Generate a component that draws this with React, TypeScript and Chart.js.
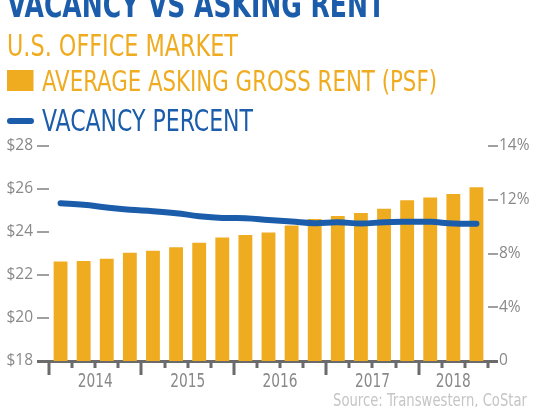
import React, { useEffect, useRef } from "react";
import { Chart, registerables } from "chart.js";

Chart.register(...registerables);

const quarters = [
  "2014 Q1", "2014 Q2", "2014 Q3", "2014 Q4",
  "2015 Q1", "2015 Q2", "2015 Q3", "2015 Q4",
  "2016 Q1", "2016 Q2", "2016 Q3", "2016 Q4",
  "2017 Q1", "2017 Q2", "2017 Q3", "2017 Q4",
  "2018 Q1", "2018 Q2", "2018 Q3",
];
const years = ["2014", "2015", "2016", "2017", "2018"];
const rentPsf = [22.63, 22.65, 22.76, 23.04, 23.13, 23.29, 23.5, 23.75, 23.86, 23.98, 24.3, 24.6, 24.74, 24.88, 25.08, 25.48, 25.6, 25.77, 26.08];
const vacancyPct = [11.74, 11.62, 11.42, 11.25, 11.15, 11.0, 10.78, 10.65, 10.63, 10.5, 10.38, 10.26, 10.33, 10.23, 10.33, 10.36, 10.36, 10.23, 10.21];
const rentTicks = [18, 20, 22, 24, 26, 28];
const vacancyTicks = [0, 4, 8, 12, 16];
const vacancyTickLabels = ["0", "4%", "8%", "12%", "14%"];

const GOLD = "#efac21";
const BLUE = "#1b5dab";
const AXIS_DARK = "#6b6b6b";
const LABEL_GRAY = "#898989";
const TICK_GRAY = "#a0a0a0";
const NARROW = "'Liberation Sans Narrow', 'DejaVu Sans Condensed', 'Liberation Sans', sans-serif";

const quarterAxisPlugin = {
  id: "quarterAxis",
  afterDraw(chart: any) {
    const { ctx, chartArea, scales } = chart;
    const x = scales.x;
    const step = x.getPixelForValue(1) - x.getPixelForValue(0);
    const start = x.getPixelForValue(0) - step / 2;
    const base = chartArea.bottom;
    ctx.save();
    ctx.strokeStyle = AXIS_DARK;
    ctx.lineWidth = 3;
    ctx.beginPath();
    for (let i = 0; i <= quarters.length; i++) {
      const px = Math.round(start + i * step);
      const major = i < quarters.length && quarters[i].endsWith("Q1");
      ctx.moveTo(px, base);
      ctx.lineTo(px, base + (major ? 14 : 7));
    }
    ctx.stroke();

    ctx.fillStyle = LABEL_GRAY;
    ctx.font = "19px " + NARROW;
    ctx.textAlign = "center";
    ctx.textBaseline = "alphabetic";
    const ref = ctx.measureText("2014").width || 35;
    const sx = 35 / ref;
    years.forEach((yr) => {
      const idx = quarters.map((q, i) => (q.startsWith(yr) ? i : -1)).filter((i) => i >= 0);
      const cx = idx.reduce((s, i) => s + x.getPixelForValue(i), 0) / idx.length;
      ctx.save();
      ctx.translate(cx, 387);
      ctx.scale(sx, 1);
      ctx.fillText(yr, 0, 0);
      ctx.restore();
    });
    ctx.restore();
  },
};

function ChartCanvas() {
  const ref = useRef<HTMLCanvasElement | null>(null);
  useEffect(() => {
    if (!ref.current) return;
    const chart = new Chart(ref.current, {
      type: "bar",
      data: {
        labels: quarters,
        datasets: [
          {
            type: "line",
            label: "Vacancy Percent",
            data: vacancyPct,
            yAxisID: "y1",
            borderColor: BLUE,
            borderWidth: 6,
            tension: 0.4,
            pointRadius: 0,
            borderCapStyle: "round",
            borderJoinStyle: "round",
            fill: false,
            order: 0,
          } as any,
          {
            type: "bar",
            label: "Average Asking Gross Rent (PSF)",
            data: rentPsf,
            yAxisID: "y",
            backgroundColor: GOLD,
            borderWidth: 0,
            barPercentage: 0.6,
            categoryPercentage: 1.0,
            order: 1,
          } as any,
        ],
      },
      options: {
        animation: false,
        responsive: false,
        maintainAspectRatio: false,
        layout: { padding: { top: 146, left: 0, right: 0, bottom: 0 } },
        plugins: { legend: { display: false }, tooltip: { enabled: false }, title: { display: false } },
        scales: {
          x: {
            type: "category",
            offset: true,
            grid: { display: false },
            border: { display: true, color: AXIS_DARK, width: 3 },
            ticks: { display: false },
            afterFit: (s: any) => { s.height = 46; },
          },
          y: {
            position: "left",
            min: 18,
            max: 28,
            afterBuildTicks: (s: any) => { s.ticks = rentTicks.map((v) => ({ value: v })); },
            ticks: {
              callback: (v: any) => "$" + v,
              color: LABEL_GRAY,
              font: { family: "'Open Sans', sans-serif", size: 15.5 },
              padding: 4,
            },
            grid: {
              drawOnChartArea: false,
              drawTicks: true,
              tickLength: 12,
              color: (c: any) => (c.tick && c.tick.value === 18 ? AXIS_DARK : TICK_GRAY),
              lineWidth: (c: any) => (c.tick && c.tick.value === 18 ? 3 : 2),
            },
            border: { display: false },
            afterFit: (s: any) => { s.width = 49; },
          },
          y1: {
            position: "right",
            min: 0,
            max: 16,
            afterBuildTicks: (s: any) => { s.ticks = vacancyTicks.map((v) => ({ value: v })); },
            ticks: {
              callback: (v: any) => vacancyTickLabels[vacancyTicks.indexOf(v)],
              color: LABEL_GRAY,
              font: { family: "'Open Sans', sans-serif", size: 15.5 },
              padding: 1,
            },
            grid: {
              drawOnChartArea: false,
              drawTicks: true,
              tickLength: 10,
              color: (c: any) => (c.tick && c.tick.value === 0 ? AXIS_DARK : TICK_GRAY),
              lineWidth: (c: any) => (c.tick && c.tick.value === 0 ? 3 : 2),
            },
            border: { display: false },
            afterFit: (s: any) => { s.width = 52; },
          },
        },
      } as any,
      plugins: [quarterAxisPlugin],
    });
    return () => chart.destroy();
  }, []);
  return (
    <canvas
      ref={ref}
      width={540}
      height={407}
      style={{ position: "absolute", left: 0, top: 0, width: 540, height: 407, display: "block" }}
    />
  );
}

export default function App() {
  return (
    <div
      style={{
        position: "absolute",
        left: 0,
        top: 0,
        width: 540,
        height: 407,
        overflow: "hidden",
        background: "#ffffff",
      }}
    >
      <ChartCanvas />
      <svg
        width={540}
        height={407}
        style={{ position: "absolute", left: 0, top: 0, pointerEvents: "none" }}
      >
        <text x={7} y={17} fontFamily={NARROW} fontSize={35} fontWeight={700} fill={BLUE}
          textLength={378} lengthAdjust="spacingAndGlyphs">VACANCY VS ASKING RENT</text>
        <text x={7} y={55.5} fontFamily={NARROW} fontSize={30} fill={GOLD}
          textLength={231} lengthAdjust="spacingAndGlyphs">U.S. OFFICE MARKET</text>
        <rect x={7} y={70} width={26.5} height={21} fill={GOLD} />
        <text x={42} y={91} fontFamily={NARROW} fontSize={29} fill={GOLD}
          textLength={395} lengthAdjust="spacingAndGlyphs">AVERAGE ASKING GROSS RENT (PSF)</text>
        <line x1={10} y1={121} x2={31} y2={121} stroke={BLUE} strokeWidth={6} strokeLinecap="round" />
        <text x={42} y={131} fontFamily={NARROW} fontSize={30} fill={BLUE}
          textLength={211} lengthAdjust="spacingAndGlyphs">VACANCY PERCENT</text>
        <text x={333} y={406} fontFamily={NARROW} fontSize={18} fill="#c5c5c5"
          textLength={194} lengthAdjust="spacingAndGlyphs">Source: Transwestern, CoStar</text>
      </svg>
    </div>
  );
}
